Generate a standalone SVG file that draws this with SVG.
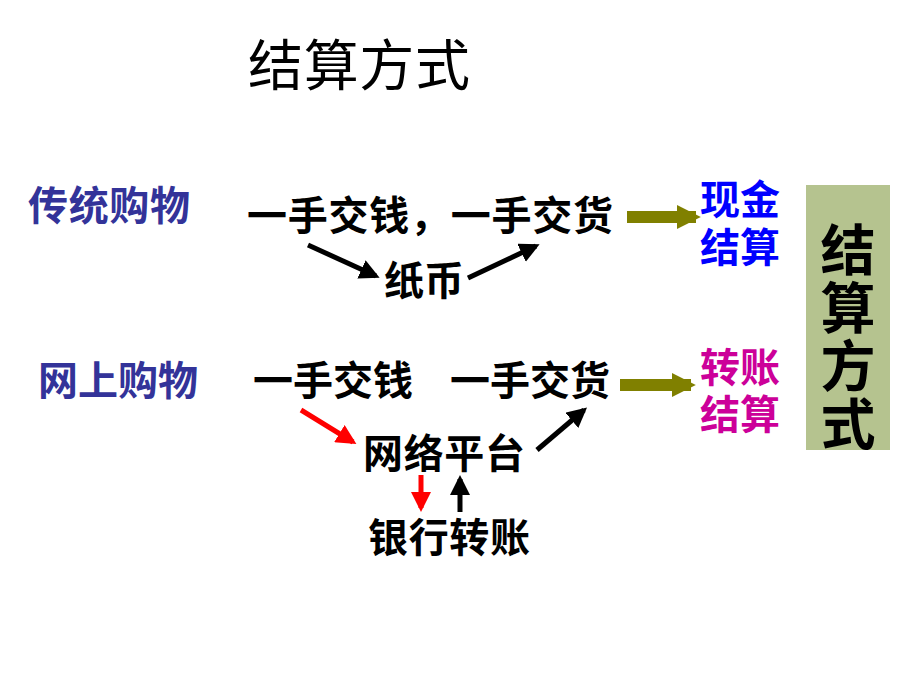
<svg xmlns="http://www.w3.org/2000/svg" width="920" height="690" viewBox="0 0 920 690">
<style>
text{font-family:"Liberation Sans","Noto Sans CJK SC",sans-serif;font-weight:bold}
.m{font-size:40px;fill:#000}
.l{font-size:40px;fill:#333399}
.k{stroke:#000;stroke-width:5;fill:none}
.r{stroke:#f00;stroke-width:5;fill:none}
.o{stroke:#808000;stroke-width:12;fill:none}
</style>
<defs>
<marker id="ak" viewBox="0 0 10 10" refX="8" refY="5" markerWidth="4" markerHeight="4" orient="auto" markerUnits="strokeWidth"><path d="M0,0L10,5L0,10z" fill="#000"/></marker>
<marker id="ar" viewBox="0 0 10 10" refX="8" refY="5" markerWidth="4" markerHeight="4" orient="auto" markerUnits="strokeWidth"><path d="M0,0L10,5L0,10z" fill="#f00"/></marker>
<marker id="ao" viewBox="0 0 10 10" refX="8" refY="5" markerWidth="2" markerHeight="2.2" orient="auto" markerUnits="strokeWidth"><path d="M0,0L10,5L0,10z" fill="#808000"/></marker>
</defs>
<rect width="920" height="690" fill="#fff"/>
<text x="248" y="85" font-size="55" textLength="222" style="font-weight:normal">结算方式</text>
<g id="trad"><text class="l" x="28" y="220" textLength="162">传统购物</text></g>
<g id="online"><text class="l" x="38" y="395" textLength="160">网上购物</text></g>
<g id="row1"><text class="m" x="247" y="230" textLength="366">一手交钱，一手交货</text></g>
<g id="paper"><text class="m" x="384" y="295">纸币</text></g>
<g id="pay2"><text class="m" x="253" y="395" textLength="160">一手交钱</text></g>
<g id="goods2"><text class="m" x="450" y="395" textLength="160">一手交货</text></g>
<g id="platform"><text class="m" x="363" y="468" textLength="162">网络平台</text></g>
<g id="bank"><text class="m" x="368" y="552" textLength="162">银行转账</text></g>
<g id="cash"><text x="700" y="214" font-size="40" fill="#0000ff">现金</text><text x="700" y="262" font-size="40" fill="#0000ff">结算</text></g>
<g id="transfer"><text x="700" y="382" font-size="40" fill="#cc0099">转账</text><text x="700" y="429" font-size="40" fill="#cc0099">结算</text></g>
<g id="box"><rect x="806" y="185" width="84" height="265" fill="#b5c38f"/>
<g font-size="55" fill="#000" text-anchor="middle"><text x="848" y="270">结</text><text x="848" y="328">算</text><text x="848" y="386">方</text><text x="848" y="444">式</text></g></g>
<g id="connectors">
<path class="k" d="M308,245L376,276" marker-end="url(#ak)"/>
<path class="k" d="M468,278L536,246" marker-end="url(#ak)"/>
<path class="r" d="M301,410L353,442" marker-end="url(#ar)"/>
<path class="k" d="M537,450L584,410" marker-end="url(#ak)"/>
<path class="r" d="M421,475L421,508" marker-end="url(#ar)"/>
<path class="k" d="M460,512L460,479" marker-end="url(#ak)"/>
<path class="o" d="M627,217L696,217" marker-end="url(#ao)"/>
<path class="o" d="M620,385L691,385" marker-end="url(#ao)"/>
</g>
</svg>
